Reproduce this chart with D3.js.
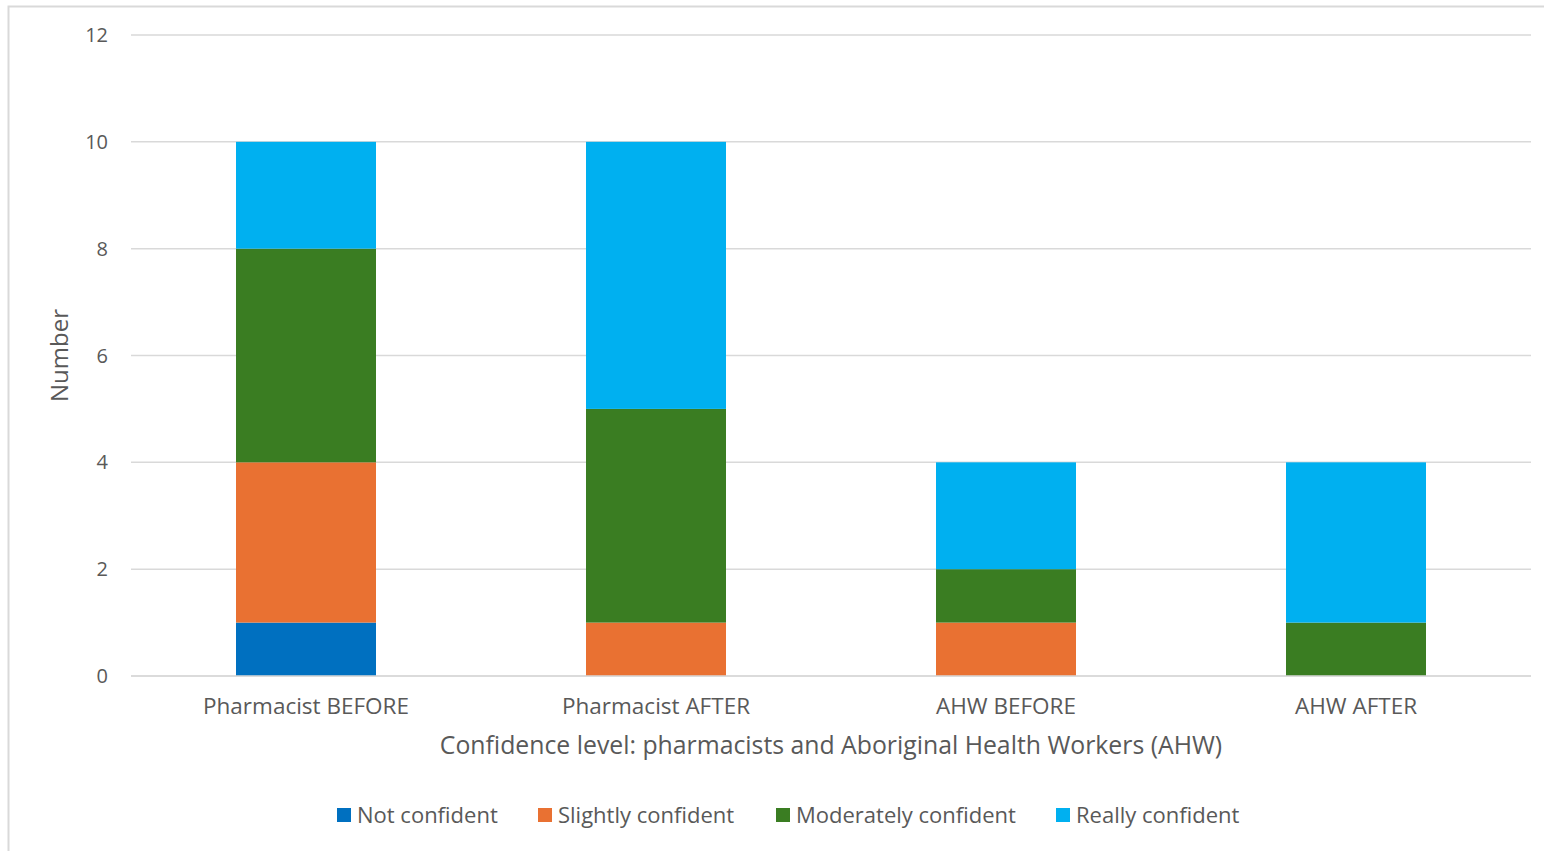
<!DOCTYPE html>
<html>
<head>
<meta charset="utf-8">
<script src="https://cdn.jsdelivr.net/npm/d3@7"></script>
<style>
  body { margin: 0; background: #fff; }
  svg { font-family: "Open Sans", "Liberation Sans", sans-serif; }
</style>
</head>
<body>
<div id="chart"></div>
<script>
// Data
const groups = ["Pharmacist BEFORE", "Pharmacist AFTER", "AHW BEFORE", "AHW AFTER"];
const levels = ["Not confident", "Slightly confident", "Moderately confident", "Really confident"];
const notConfident = [1, 0, 0, 0];
const slightlyConfident = [3, 1, 1, 0];
const moderatelyConfident = [4, 4, 1, 1];
const reallyConfident = [2, 5, 2, 3];
const yTicks = [0, 2, 4, 6, 8, 10, 12];
const colors = ["#0070C0", "#E97132", "#3A7D22", "#00B0F0"];

const W = 1544, H = 851;
const margin = {left: 131, right: 13, top: 35, bottom: 175};

const table = groups.map((g, i) => ({
    group: g,
    "Not confident": notConfident[i],
    "Slightly confident": slightlyConfident[i],
    "Moderately confident": moderatelyConfident[i],
    "Really confident": reallyConfident[i]
}));
const stacked = d3.stack().keys(levels)(table);

const svg = d3.select("#chart").append("svg")
    .attr("width", W)
    .attr("height", H);

svg.append("rect").attr("width", W).attr("height", H).attr("fill", "#fff");
// chart frame
svg.append("rect")
    .attr("x", 8.5).attr("y", 6.5)
    .attr("width", W + 10).attr("height", H + 10)
    .attr("fill", "none")
    .attr("stroke", "#d9d9d9")
    .attr("stroke-width", 2);

const x = d3.scaleBand()
    .domain(groups)
    .range([margin.left, W - margin.right])
    .paddingInner(0.6).paddingOuter(0.3);

const y = d3.scaleLinear()
    .domain([0, 12])
    .range([H - margin.bottom, margin.top]);

// gridlines
svg.append("g")
    .selectAll("line")
    .data(yTicks)
    .join("line")
    .attr("x1", margin.left).attr("x2", W - margin.right)
    .attr("y1", d => y(d)).attr("y2", d => y(d))
    .attr("stroke", "#d9d9d9")
    .attr("stroke-width", 1.5);

// y tick labels
svg.append("g")
    .selectAll("text")
    .data(yTicks)
    .join("text")
    .attr("x", 108)
    .attr("y", d => y(d))
    .attr("dy", "0.35em")
    .attr("text-anchor", "end")
    .attr("fill", "#595959")
    .style("font-size", "20px")
    .text(d => d);

// bars
svg.append("g")
    .selectAll("g")
    .data(stacked)
    .join("g")
    .attr("fill", (d, i) => colors[i])
    .selectAll("rect")
    .data(d => d)
    .join("rect")
    .attr("x", d => x(d.data.group))
    .attr("width", x.bandwidth())
    .attr("y", d => y(d[1]))
    .attr("height", d => y(d[0]) - y(d[1]));

// x axis line on top of bars
svg.append("line")
    .attr("x1", margin.left).attr("x2", W - margin.right)
    .attr("y1", y(0)).attr("y2", y(0))
    .attr("stroke", "#d9d9d9")
    .attr("stroke-width", 1.5);

// category labels
svg.append("g")
    .selectAll("text")
    .data(groups)
    .join("text")
    .attr("x", d => x(d) + x.bandwidth() / 2)
    .attr("y", 714)
    .attr("text-anchor", "middle")
    .attr("fill", "#595959")
    .style("font-size", "22.5px")
    .text(d => d);

// axis titles
svg.append("text")
    .attr("x", 831).attr("y", 754)
    .attr("text-anchor", "middle")
    .attr("fill", "#595959")
    .style("font-size", "24.8px")
    .text("Confidence level: pharmacists and Aboriginal Health Workers (AHW)");

svg.append("text")
    .attr("transform", `translate(68,${y(6)}) rotate(-90)`)
    .attr("text-anchor", "middle")
    .attr("fill", "#595959")
    .style("font-size", "24px")
    .text("Number");

// legend
const legendX = [337, 538, 776, 1056];
const legend = svg.append("g")
    .selectAll("g")
    .data(levels)
    .join("g")
    .attr("transform", (d, i) => `translate(${legendX[i]},808)`);
legend.append("rect")
    .attr("width", 14).attr("height", 14)
    .attr("fill", (d, i) => colors[i]);
legend.append("text")
    .attr("x", 20).attr("y", 7)
    .attr("dy", "0.35em")
    .attr("fill", "#595959")
    .style("font-size", "22px")
    .text(d => d);
</script>
</body>
</html>
